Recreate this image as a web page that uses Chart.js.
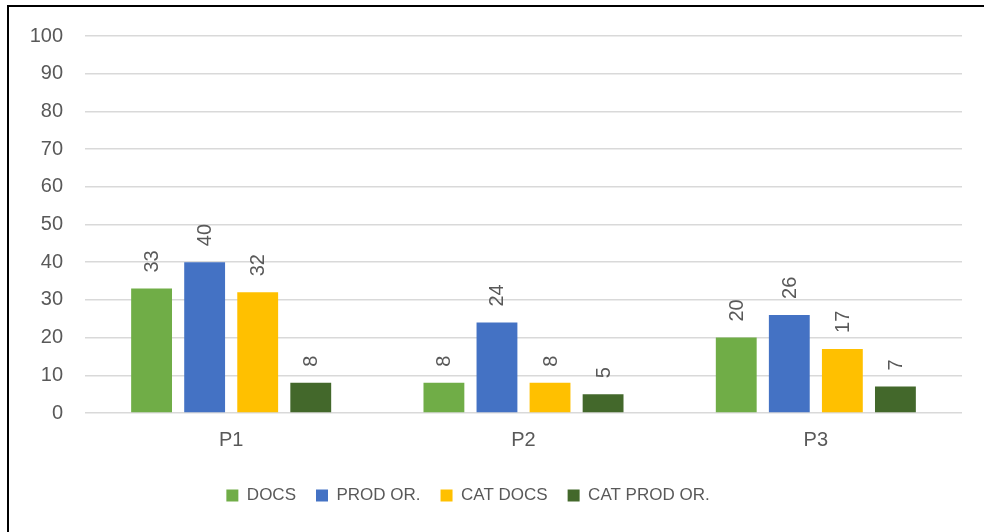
<!DOCTYPE html>
<html>
<head>
<meta charset="utf-8">
<script src="https://cdn.jsdelivr.net/npm/chart.js@4/dist/chart.umd.min.js"></script>
<style>
  html, body { margin: 0; padding: 0; background: #ffffff; }
  #wrap { position: relative; width: 984px; height: 532px; overflow: hidden; }
  #chart { position: absolute; left: 0; top: 0; }
  #frame {
    position: absolute; left: 7px; top: 5px; right: -4px; bottom: -4px;
    border-left: 2px solid #000; border-top: 2px solid #000;
    pointer-events: none;
  }
</style>
</head>
<body>
<div id="wrap">
  <canvas id="chart" width="984" height="532"></canvas>
  <div id="frame"></div>
</div>
<script>
// Categories and series
const categories = ['P1', 'P2', 'P3'];
const docs = [33, 8, 20];
const prodOr = [40, 24, 26];
const catDocs = [32, 8, 17];
const catProdOr = [8, 5, 7];
const seriesNames = ['DOCS', 'PROD OR.', 'CAT DOCS', 'CAT PROD OR.'];

const textColor = '#595959';
const fontFamily = '"Liberation Sans", Arial, sans-serif';

// Vertical value labels above each bar
const barValueLabels = {
  id: 'barValueLabels',
  afterDatasetsDraw(chart) {
    const ctx = chart.ctx;
    ctx.save();
    ctx.fillStyle = textColor;
    ctx.font = '20px ' + fontFamily;
    ctx.textAlign = 'left';
    ctx.textBaseline = 'middle';
    chart.data.datasets.forEach((ds, i) => {
      const meta = chart.getDatasetMeta(i);
      meta.data.forEach((bar, j) => {
        ctx.save();
        ctx.translate(bar.x + 1, bar.y - 16);
        ctx.rotate(-Math.PI / 2);
        ctx.fillText(String(ds.data[j]), 0, 0);
        ctx.restore();
      });
    });
    ctx.restore();
  }
};

// Nudge the legend row a little to the left of centre
const legendShift = {
  id: 'legendShift',
  afterLayout(chart) {
    const lg = chart.legend;
    if (lg) { lg.left -= 13; lg.right -= 13; }
  }
};

const colors = ['#70AD47', '#4472C4', '#FFC000', '#43682B'];
const values = [docs, prodOr, catDocs, catProdOr];

new Chart(document.getElementById('chart'), {
  type: 'bar',
  data: {
    labels: categories,
    datasets: values.map((v, i) => ({
      label: seriesNames[i],
      data: v,
      backgroundColor: colors[i],
      borderWidth: 0,
      barPercentage: 0.77,
      categoryPercentage: 0.726
    }))
  },
  options: {
    responsive: false,
    animation: false,
    layout: { padding: { top: 36, right: 22, bottom: 18, left: 0 } },
    plugins: {
      legend: {
        position: 'bottom',
        labels: {
          boxWidth: 12,
          boxHeight: 12,
          padding: 20,
          color: textColor,
          font: { size: 17, family: fontFamily }
        }
      },
      tooltip: { enabled: false }
    },
    scales: {
      x: {
        grid: { display: false, drawTicks: false },
        border: { display: false },
        ticks: { color: textColor, padding: 15, font: { size: 20, family: fontFamily } },
        afterFit(scale) { scale.height = 54; }
      },
      y: {
        min: 0,
        max: 100,
        ticks: { stepSize: 10, color: textColor, padding: 22, font: { size: 20, family: fontFamily } },
        grid: { color: '#D9D9D9', lineWidth: 1.5, drawTicks: false },
        border: { display: false },
        afterFit(scale) { scale.width = 85; }
      }
    }
  },
  plugins: [barValueLabels, legendShift]
});
</script>
</body>
</html>
